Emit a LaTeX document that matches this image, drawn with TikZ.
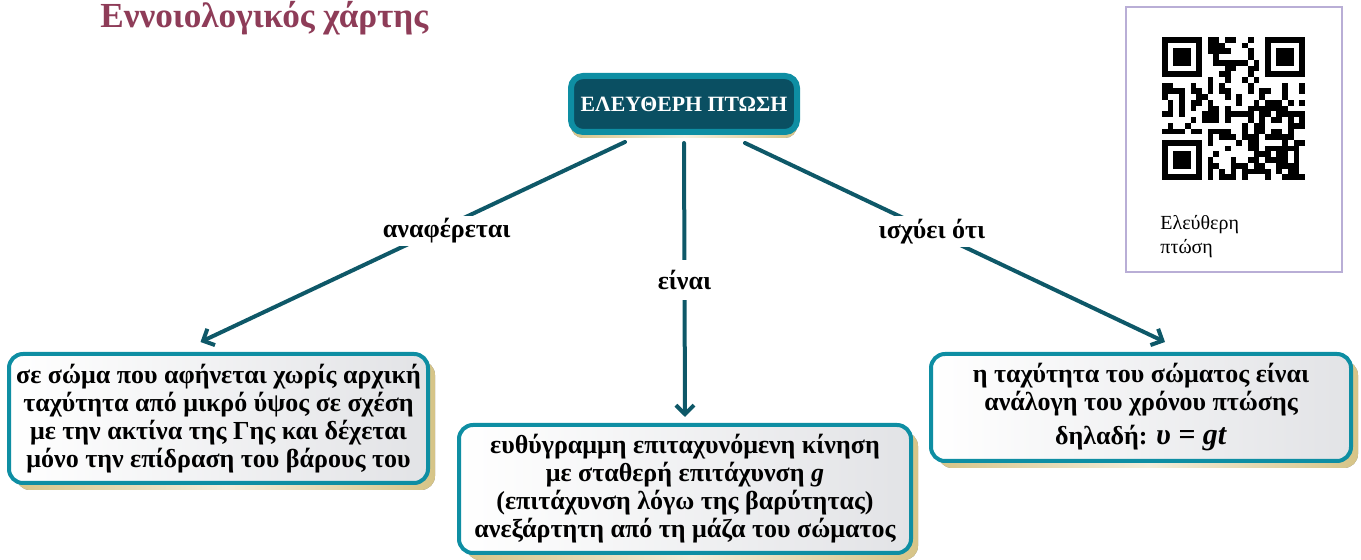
\documentclass[tikz,border=0pt]{standalone}
\usepackage{fontspec}
\setmainfont{Liberation Serif}
\usepackage{xcolor}
\usetikzlibrary{arrows.meta,positioning,shadows,calc}

\definecolor{maptitle}{RGB}{142,60,88}
\definecolor{tealdeep}{RGB}{10,79,98}
\definecolor{tealrim}{RGB}{14,142,163}
\definecolor{teallink}{RGB}{14,88,104}
\definecolor{shadowgold}{RGB}{214,196,135}
\definecolor{boxgrey}{RGB}{226,227,230}
\definecolor{qrframe}{RGB}{185,174,214}

\begin{document}
\begin{tikzpicture}[x=0.5pt,y=-0.5pt,
    topbox/.style={rectangle,draw=tealrim,line width=3pt,fill=tealdeep,rounded corners=6pt,
                   minimum width=113pt,minimum height=28pt,inner sep=0pt,text=white,
                   font=\fontsize{10.9}{13}\selectfont\bfseries,
                   drop shadow={shadow xshift=0pt,shadow yshift=-3pt,left color=shadowgold,
                                right color=shadowgold,middle color=shadowgold!25,opacity=1}},
    infobox/.style={rectangle,draw=tealrim,line width=2pt,left color=white,right color=boxgrey,
                    rounded corners=7pt,align=center,inner sep=0pt,
                    font=\fontsize{13}{14}\selectfont\bfseries,
                    drop shadow={shadow xshift=3.5pt,shadow yshift=-3.5pt,left color=shadowgold,
                                 right color=shadowgold,middle color=shadowgold!30,opacity=1}},
    link/.style={-{Straight Barb[length=4.5pt,width=9pt]},line width=2pt,draw=teallink,line cap=round},
    linklabel/.style={fill=white,inner sep=1.5pt,font=\fontsize{13}{14}\selectfont\bfseries}]
\useasboundingbox (0,0) rectangle (1361,560);

% title
\node[anchor=base west,inner sep=0pt,text=maptitle,font=\fontsize{17.6}{20}\selectfont\bfseries]
    (maptitle) at (100,28) {Εννοιολογικός χάρτης};

% concept boxes
\node[topbox] (fall) at (684,104) {ΕΛΕΥΘΕΡΗ ΠΤΩΣΗ};
\node[infobox,minimum width=209.5pt,minimum height=64.5pt] (body) at (218.5,418.5)
    {σε σώμα που αφήνεται χωρίς αρχική\\ταχύτητα από μικρό ύψος σε σχέση\\με την ακτίνα της Γης και δέχεται\\μόνο την επίδραση του βάρους του};
\node[infobox,minimum width=226pt,minimum height=64pt] (motion) at (685,489)
    {ευθύγραμμη επιταχυνόμενη κίνηση\\με σταθερή επιτάχυνση \textit{g}\\(επιτάχυνση λόγω της βαρύτητας)\\ανεξάρτητη από τη μάζα του σώματος};
\node[infobox,minimum width=210pt,minimum height=53.5pt] (speed) at (1141,407.5)
    {η ταχύτητα του σώματος είναι\\ανάλογη του χρόνου πτώσης\\[3pt]δηλαδή: {\fontsize{15}{16}\selectfont\textit{υ = gt}}};

% links
\draw[link] ($(fall.south)+(-59,7)$) -- node[linklabel,pos=0.42,yshift=-2.5pt] (refers) {αναφέρεται}
    ($(body.north)+(-18,-10)$);
\draw[link] ($(fall.south)+(0,8)$) -- node[linklabel,inner ysep=5pt,pos=0.5] (is) {είναι}
    ($(motion.north)+(0,-6)$);
\draw[link] ($(fall.south)+(61,8)$) -- node[linklabel,pos=0.445] (holds) {ισχύει ότι}
    ($(speed.north)+(24,-10)$);

% qr panel
\draw[qrframe,line width=1pt] (1126,7) rectangle (1342,272);
\foreach \i in {0,...,24}{
  \foreach \j in {0,...,24}{
    \pgfmathtruncatemacro\infinder{((\i<8)&&(\j<8))||((\i>16)&&(\j<8))||((\i<8)&&(\j>16))}
    \ifnum\infinder=0
      \pgfmathtruncatemacro\bit{mod(int(abs(sin(\i*127.1+\j*311.7+\i*\j*7.3))*9973),2)}
      \ifnum\bit=1
        \fill ({1162+\i*5.72},{37+\j*5.72}) rectangle ++(5.72,5.72);
      \fi
    \fi
  }
}
\foreach \cx/\cy in {0/0,18/0,0/18}{
  \fill ({1162+\cx*5.72},{37+\cy*5.72}) rectangle ++(40.04,40.04);
  \fill[white] ({1162+(\cx+1)*5.72},{37+(\cy+1)*5.72}) rectangle ++(28.6,28.6);
  \fill ({1162+(\cx+2)*5.72},{37+(\cy+2)*5.72}) rectangle ++(17.16,17.16);
}
\node[anchor=north west,inner sep=0pt,align=left,font=\fontsize{10}{12}\selectfont]
    (qrcap) at (1160,215) {Ελεύθερη\\πτώση};
\end{tikzpicture}
\end{document}
